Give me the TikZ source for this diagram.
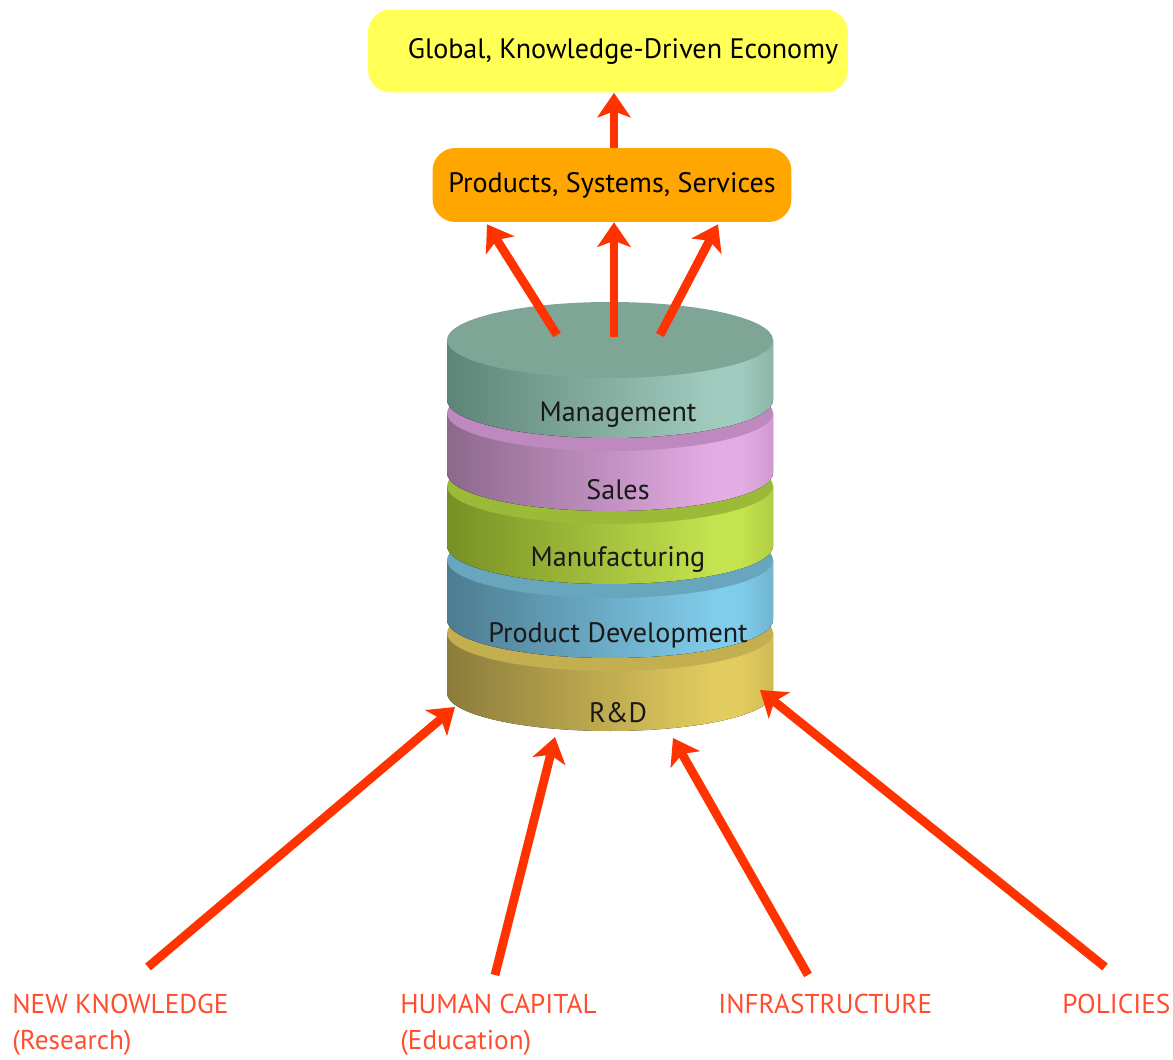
\documentclass[tikz,border=0pt]{standalone}
\usepackage{fontspec}
\setmainfont{PT Sans}
\usetikzlibrary{arrows.meta, calc}

\definecolor{arrowred}{HTML}{FF3300}
\definecolor{labelred}{HTML}{FF4D2E}
\definecolor{boxyellow}{HTML}{FFFF55}
\definecolor{boxorange}{HTML}{FFA600}
\colorlet{sideL}{gray}
\colorlet{sideR}{white}
\colorlet{sideE}{gray}
\pgfdeclarehorizontalshading[sideL,sideR,sideE]{diskside}{100bp}{color(0bp)=(sideL); color(25bp)=(sideL); color(66bp)=(sideR); color(70bp)=(sideR); color(75bp)=(sideE); color(100bp)=(sideE)}

\begin{document}
\begin{tikzpicture}[x = 0.02cm, y = -0.02cm,
	> = {Stealth[length = 14pt, width = 19pt, inset = 3.5pt]},
	arr/.style = {->, arrowred, line width = 5pt},
	box/.style = {rounded corners = 13pt, text = black, font = \fontsize{16}{19}\selectfont},
	disklbl/.style = {text = black!90, font = \fontsize{16}{19}\selectfont},
	lbl/.style = {labelred, align = left, anchor = north west, inner sep = 0pt, font = \fontsize{15.5}{20.5}\selectfont}]

	\useasboundingbox (0, 0) rectangle (1173, 1060);

	% Boxes

	\node [box, fill = boxyellow, minimum width = 9.6cm, minimum height = 1.66cm] (econ) at (608, 51) {\hspace{0.6cm}Global, Knowledge-Driven Economy};
	\node [box, fill = boxorange, minimum width = 7.18cm, minimum height = 1.48cm] (prod) at (612, 185) {Products, Systems, Services};

	% Disks, bottom one first

	\foreach \t/\sl/\sr/\se/\tp/\nm/\txt/\ty in {
		633/8C7C3C/E2CC5E/D0BA55/C3AE50/rnd/R\&D/713,
		560/4D7C90/80CCEB/70B5D2/68A6BE/pdev/Product Development/635,
		486/789024/C4E34E/B0CE45/9BBA38/manu/Manufacturing/560,
		413/8C688C/E4ACE4/D09AD0/BE89BE/sales/Sales/490,
		340/5E8477/A0CBBE/8DB5A8/7FA596/mgmt/Management/415}
	{
		\definecolor{sideL}{HTML}{\sl}
		\definecolor{sideR}{HTML}{\sr}
		\definecolor{sideE}{HTML}{\se}
		\definecolor{diskTop}{HTML}{\tp}
		\fill [shading = diskside] (447, \t) -- (447, \t + 60) arc [start angle = 180, end angle = 0, x radius = 163, y radius = 38] -- (773, \t) -- cycle;
		\fill [diskTop] (610, \t) ellipse [x radius = 163, y radius = 38];
		\node [disklbl] (\nm) at (618, \ty) {\txt};
	}

	% Outputs

	\coordinate (c1) at (557, 335);
	\coordinate (c2) at (614, 337);
	\coordinate (c3) at (660, 335);

	\draw [arr] (prod.north -| c2) -- (econ.south -| c2);
	\draw [arr] (c1) -- ($(prod.south) + (-125, 2)$);
	\draw [arr] (c2) -- (prod.south -| c2);
	\draw [arr] (c3) -- ($(prod.south) + (106, 2)$);

	% Inputs

	\node [lbl] (know) at (12, 994) {NEW KNOWLEDGE\\(Research)};
	\node [lbl] (human) at (400, 994) {HUMAN CAPITAL\\(Education)};
	\node [lbl] (infra) at (718, 994) {INFRASTRUCTURE};
	\node [lbl] (policy) at (1062, 994) {POLICIES};

	\coordinate (s1) at (148, 967);
	\coordinate (s2) at (495, 975);
	\coordinate (s3) at (808, 975);
	\coordinate (s4) at (1105, 967);
	\coordinate (r1) at (455, 707);
	\coordinate (r2) at (555, 737);
	\coordinate (r3) at (673, 738);
	\coordinate (r4) at (760, 690);

	\foreach \i in {1, 2, 3, 4}
		\draw [arr] (s\i) -- (r\i);

\end{tikzpicture}
\end{document}
